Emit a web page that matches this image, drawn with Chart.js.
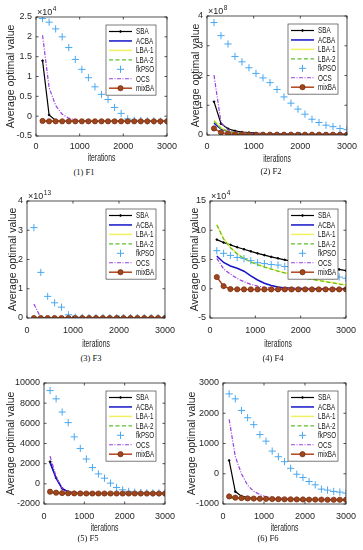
<!DOCTYPE html>
<html><head><meta charset="utf-8">
<script src="https://cdn.jsdelivr.net/npm/chart.js@4/dist/chart.umd.min.js"></script>
<style>
html,body{margin:0;padding:0;background:#fff}
body{width:363px;height:550px;position:relative;overflow:hidden}
.pw{position:absolute}
.cap{position:absolute;font-family:"Liberation Serif","Times New Roman",serif;font-size:8.5px;color:#111;transform:translate(-50%,-50%);white-space:nowrap}
</style></head>
<body>
<div id="root"></div>
<script>
// ---------- data ----------
const iterations = [150,300,450,600,750,900,1050,1200,1350,1500,1650,1800,1950,2100,2250,2400,2550,2700,2850,3000];
const seriesNames = ['SBA','ACBA','LBA-1','LBA-2','fkPSO','OCS','mixBA'];
const xTicks = [0,1000,2000,3000];

// F1 (x10^4)
const f1Ticks = [-0.5,0,0.5,1,1.5,2,2.5];
const f1SBA   = [1.40,0.03,-0.11,-0.13,-0.13,-0.13,-0.13,-0.13,-0.13,-0.13,-0.13,-0.13,-0.13,-0.13,-0.13,-0.13,-0.13,-0.13,-0.13,-0.13];
const f1ACBA  = [-0.12,-0.13,-0.13,-0.13,-0.13,-0.13,-0.13,-0.13,-0.13,-0.13,-0.13,-0.13,-0.13,-0.13,-0.13,-0.13,-0.13,-0.13,-0.13,-0.13];
const f1LBA1  = [-0.12,-0.13,-0.13,-0.13,-0.13,-0.13,-0.13,-0.13,-0.13,-0.13,-0.13,-0.13,-0.13,-0.13,-0.13,-0.13,-0.13,-0.13,-0.13,-0.13];
const f1LBA2  = [-0.12,-0.13,-0.13,-0.13,-0.13,-0.13,-0.13,-0.13,-0.13,-0.13,-0.13,-0.13,-0.13,-0.13,-0.13,-0.13,-0.13,-0.13,-0.13,-0.13];
const f1fkPSO = [2.46,2.37,2.20,2.00,1.73,1.43,1.18,0.97,0.74,0.55,0.42,0.22,0.07,-0.07,-0.10,-0.11,-0.12,-0.12,-0.13,-0.13];
const f1OCS   = [2.04,0.72,0.27,0.05,-0.05,-0.10,-0.12,-0.13,-0.13,-0.13,-0.13,-0.13,-0.13,-0.13,-0.13,-0.13,-0.13,-0.13,-0.13,-0.13];
const f1mixBA = [-0.12,-0.13,-0.13,-0.13,-0.13,-0.13,-0.13,-0.13,-0.13,-0.13,-0.13,-0.13,-0.13,-0.13,-0.13,-0.13,-0.13,-0.13,-0.13,-0.13];

// F2 (x10^8)
const f2Ticks = [0,1,2,3,4];
const f2SBA   = [1.12,0.38,0.21,0.14,0.10,0.08,0.06,0.05,0.045,0.04,0.035,0.03,0.03,0.025,0.025,0.02,0.02,0.02,0.02,0.02];
const f2ACBA  = [0.40,0.20,0.12,0.08,0.06,0.05,0.04,0.035,0.03,0.03,0.025,0.025,0.02,0.02,0.02,0.02,0.015,0.015,0.015,0.015];
const f2LBA1  = [0.50,0.24,0.13,0.08,0.06,0.045,0.035,0.03,0.025,0.02,0.02,0.018,0.016,0.015,0.014,0.013,0.012,0.012,0.011,0.011];
const f2LBA2  = [0.46,0.22,0.12,0.075,0.055,0.042,0.033,0.028,0.024,0.02,0.018,0.016,0.015,0.014,0.013,0.012,0.011,0.011,0.01,0.01];
const f2fkPSO = [3.78,3.34,3.06,2.64,2.46,2.26,2.07,1.92,1.76,1.53,1.28,1.07,0.87,0.70,0.53,0.42,0.33,0.28,0.22,0.18];
const f2OCS   = [2.01,0.42,0.17,0.10,0.07,0.05,0.04,0.035,0.03,0.025,0.02,0.02,0.02,0.02,0.02,0.02,0.02,0.02,0.02,0.02];
const f2mixBA = [0.22,0.08,0.04,0.025,0.02,0.015,0.01,0.01,0.01,0.01,0.01,0.01,0.01,0.01,0.01,0.01,0.01,0.01,0.01,0.01];

// F3 (x10^13)
const f3Ticks = [0,1,2,3,4];
const f3SBA   = [0.01,0,0,0,0,0,0,0,0,0,0,0,0,0,0,0,0,0,0,0];
const f3ACBA  = [0,0,0,0,0,0,0,0,0,0,0,0,0,0,0,0,0,0,0,0];
const f3LBA1  = [0,0,0,0,0,0,0,0,0,0,0,0,0,0,0,0,0,0,0,0];
const f3LBA2  = [0,0,0,0,0,0,0,0,0,0,0,0,0,0,0,0,0,0,0,0];
const f3fkPSO = [3.09,1.56,0.74,0.52,0.37,0.11,0.03,0.02,0.01,0.01,0.01,0.01,0.01,0.01,0.01,0.01,0.01,0.01,0.01,0.01];
const f3OCS   = [0.48,0.01,0,0,0,0,0,0,0,0,0,0,0,0,0,0,0,0,0,0];
const f3mixBA = [0,0,0,0,0,0,0,0,0,0,0,0,0,0,0,0,0,0,0,0];

// F4 (x10^4)
const f4Ticks = [-5,0,5,10,15];
const f4SBA   = [8.4,7.9,7.5,7.1,6.75,6.4,6.05,5.75,5.45,5.2,4.95,4.7,4.5,4.3,4.1,3.9,3.7,3.5,3.3,3.1];
const f4ACBA  = [5.6,4.5,3.9,3.5,3.0,2.2,1.5,0.95,0.55,0.3,0.15,0.07,0.04,0.03,0.02,0.02,0.01,0.01,0.01,0.01];
const f4LBA1  = [11.0,8.6,7.1,6.0,5.2,4.6,4.15,3.75,3.4,3.05,2.75,2.45,2.15,1.9,1.65,1.45,1.25,1.05,0.85,0.65];
const f4LBA2  = [10.9,8.5,7.0,5.95,5.15,4.55,4.1,3.7,3.35,3.0,2.7,2.4,2.1,1.85,1.6,1.4,1.2,1.0,0.8,0.6];
const f4fkPSO = [6.5,6.05,5.7,5.35,5.15,4.8,4.45,4.3,4.15,4.05,3.8,3.55,3.3,3.05,2.8,2.6,2.4,2.2,2.0,1.8];
const f4OCS   = [5.2,3.4,2.5,1.75,1.2,0.75,0.45,0.25,0.12,0.06,0.03,0.02,0.01,0.01,0.01,0.01,0.01,0.01,0.01,0.01];
const f4mixBA = [2.0,0.45,-0.05,-0.1,-0.11,-0.11,-0.11,-0.11,-0.11,-0.11,-0.11,-0.11,-0.11,-0.11,-0.11,-0.11,-0.11,-0.11,-0.11,-0.11];

// F5
const f5Ticks = [-2000,0,2000,4000,6000,8000,10000];
const f5SBA   = [2200,600,-450,-800,-900,-930,-945,-950,-955,-955,-960,-960,-960,-960,-960,-960,-960,-960,-960,-960];
const f5ACBA  = [2100,550,-480,-810,-905,-935,-950,-955,-955,-960,-960,-960,-960,-960,-960,-960,-960,-960,-960,-960];
const f5LBA1  = [-900,-930,-945,-950,-955,-955,-960,-960,-960,-960,-960,-960,-960,-960,-960,-960,-960,-960,-960,-960];
const f5LBA2  = [-905,-930,-945,-950,-955,-955,-960,-960,-960,-960,-960,-960,-960,-960,-960,-960,-960,-960,-960,-960];
const f5fkPSO = [9250,8430,7120,6070,4660,3510,2460,1610,985,560,70,-360,-590,-750,-830,-870,-890,-900,-910,-920];
const f5OCS   = [2750,700,-400,-780,-890,-930,-950,-955,-960,-960,-960,-960,-960,-960,-960,-960,-960,-960,-960,-960];
const f5mixBA = [-780,-880,-920,-940,-950,-955,-960,-960,-960,-960,-960,-960,-960,-960,-960,-960,-960,-960,-960,-960];

// F6
const f6Ticks = [-1000,0,1000,2000,3000];
const f6SBA   = [440,-590,-740,-790,-810,-820,-830,-835,-840,-845,-850,-850,-855,-855,-860,-860,-860,-865,-865,-865];
const f6ACBA  = [-780,-800,-815,-825,-830,-835,-840,-845,-850,-850,-855,-855,-860,-860,-860,-865,-865,-865,-870,-870];
const f6LBA1  = [-790,-810,-820,-828,-835,-840,-845,-848,-850,-853,-855,-858,-860,-862,-864,-865,-866,-867,-868,-869];
const f6LBA2  = [-795,-812,-822,-830,-836,-841,-846,-849,-851,-854,-856,-859,-861,-863,-864,-865,-866,-867,-868,-869];
const f6fkPSO = [2640,2475,2093,1852,1623,1295,1077,749,563,399,180,-16,-125,-257,-366,-508,-541,-585,-607,-640];
const f6OCS   = [1800,570,0,-380,-580,-690,-760,-790,-810,-820,-830,-835,-840,-842,-845,-847,-848,-849,-850,-850];
const f6mixBA = [-750,-790,-805,-815,-820,-825,-830,-835,-840,-845,-845,-850,-850,-855,-855,-855,-860,-860,-860,-860];

// ---------- styles ----------
const FONT = '"Liberation Sans", Arial, Helvetica, sans-serif';
const TXT = '#262626';
const styles = [
  {color:'#000000', width:1.2, dash:[], marker:'dot'},
  {color:'#1414c8', width:1.5, dash:[], marker:null},
  {color:'#f0f060', width:1.5, dash:[], marker:null},
  {color:'#5cbf2a', width:1.2, dash:[4,2.5], marker:null},
  {color:'#4aa8f0', width:1, dash:[], marker:'cross', noLine:true},
  {color:'#9a40e0', width:1.2, dash:[4,1.5,1,1.5], marker:null},
  {color:'#b4451f', width:1.5, dash:[], marker:'circle', fill:'#a0461e', edge:'#7a3214'}
];

const panels = [
  {colX:0,   rowY:0,   w:182, area:[36,17,167,136],  xPad:5, xTitleY:158, yTitleX:10.7, cap:'(1) F1', capX:84,  capY:172, exp:'4',  yTicks:f1Ticks, series:[f1SBA,f1ACBA,f1LBA1,f1LBA2,f1fkPSO,f1OCS,f1mixBA]},
  {colX:182, rowY:0,   w:181, area:[207,16,349,135], xPad:6, xTitleY:159, yTitleX:196,  cap:'(2) F2', capX:271, capY:171, exp:'8',  yTicks:f2Ticks, series:[f2SBA,f2ACBA,f2LBA1,f2LBA2,f2fkPSO,f2OCS,f2mixBA]},
  {colX:0,   rowY:183, w:182, area:[27,201,167,318], xPad:7, xTitleY:344, yTitleX:13.5, cap:'(3) F3', capX:91,  capY:358, exp:'13', yTicks:f3Ticks, series:[f3SBA,f3ACBA,f3LBA1,f3LBA2,f3fkPSO,f3OCS,f3mixBA]},
  {colX:182, rowY:183, w:181, area:[210,201,348,318],xPad:7, xTitleY:344, yTitleX:195,  cap:'(4) F4', capX:273, capY:358, exp:'4',  yTicks:f4Ticks, series:[f4SBA,f4ACBA,f4LBA1,f4LBA2,f4fkPSO,f4OCS,f4mixBA]},
  {colX:0,   rowY:365, w:182, area:[44,383,167,504], xPad:7, xTitleY:528, yTitleX:11,   cap:'(5) F5', capX:88,  capY:538, exp:null, yTicks:f5Ticks, series:[f5SBA,f5ACBA,f5LBA1,f5LBA2,f5fkPSO,f5OCS,f5mixBA]},
  {colX:182, rowY:365, w:181, area:[223,383,349,504],xPad:7, xTitleY:528, yTitleX:192,  cap:'(6) F6', capX:268, capY:538, exp:null, yTicks:f6Ticks, series:[f6SBA,f6ACBA,f6LBA1,f6LBA2,f6fkPSO,f6OCS,f6mixBA]}
];

function ptRadius(s){ return s.marker==='cross'?3.6 : s.marker==='circle'?2.6 : s.marker==='dot'?0.9 : 0; }

function drawMarker(ctx, s, x, y){
  if(!s.marker) return;
  ctx.save();
  ctx.setLineDash([]);
  if(s.marker==='cross'){
    ctx.strokeStyle=s.color; ctx.lineWidth=1;
    ctx.beginPath(); ctx.moveTo(x-3.6,y); ctx.lineTo(x+3.6,y); ctx.moveTo(x,y-3.6); ctx.lineTo(x,y+3.6); ctx.stroke();
  } else {
    ctx.fillStyle=s.fill||s.color; ctx.strokeStyle=s.edge||s.color; ctx.lineWidth=0.8;
    ctx.beginPath(); ctx.arc(x,y,ptRadius(s),0,Math.PI*2); ctx.fill(); ctx.stroke();
  }
  ctx.restore();
}

function squeezedText(ctx, text, x, y, sx){
  ctx.save();
  ctx.translate(x, y);
  ctx.scale(sx, 1);
  ctx.fillText(text, 0, 0);
  ctx.restore();
}

function makePlugin(p){
  return {
    id:'frame',
    afterDatasetsDraw(chart){
      const {ctx, chartArea:a, scales:{x,y}} = chart;
      ctx.save();
      // axes box and inward ticks
      ctx.strokeStyle=TXT; ctx.lineWidth=0.8; ctx.setLineDash([]);
      ctx.strokeRect(a.left, a.top, a.right-a.left, a.bottom-a.top);
      ctx.beginPath();
      const tl=2.5;
      x.ticks.forEach(t=>{const px=x.getPixelForValue(t.value); ctx.moveTo(px,a.bottom); ctx.lineTo(px,a.bottom-tl); ctx.moveTo(px,a.top); ctx.lineTo(px,a.top+tl);});
      y.ticks.forEach(t=>{const py=y.getPixelForValue(t.value); ctx.moveTo(a.left,py); ctx.lineTo(a.left+tl,py); ctx.moveTo(a.right,py); ctx.lineTo(a.right-tl,py);});
      ctx.stroke();
      // x axis title (narrow, as in the reference)
      ctx.fillStyle=TXT; ctx.textAlign='center'; ctx.textBaseline='middle';
      ctx.font='11px '+FONT;
      squeezedText(ctx, 'iterations', (a.left+a.right)/2, p.xTitleY - p.rowY, 0.62);
      // exponent label
      if(p.exp){
        ctx.fillStyle=TXT; ctx.textBaseline='alphabetic'; ctx.textAlign='left';
        ctx.font='9px '+FONT;
        ctx.fillText('\u00d710', a.left+1, a.top-2);
        const w=ctx.measureText('\u00d710').width;
        ctx.font='6.5px '+FONT;
        ctx.fillText(p.exp, a.left+1+w+0.5, a.top-6);
      }
      // legend box
      const lx = (p.colX===0?106:288) - p.colX;
      const ly = a.top + 8;
      const rowH = 9.45, lw = 50, lh = 7*rowH + 4;
      ctx.fillStyle='#fff'; ctx.fillRect(lx, ly, lw, lh);
      ctx.strokeStyle=TXT; ctx.lineWidth=0.6; ctx.strokeRect(lx, ly, lw, lh);
      ctx.font='8.5px '+FONT; ctx.textBaseline='middle'; ctx.textAlign='left';
      seriesNames.forEach((name,i)=>{
        const s=styles[i];
        const cy = ly + 6.5 + i*rowH;
        const x0 = lx+3, x1 = lx+26;
        if(!s.noLine){
          ctx.save();
          ctx.strokeStyle=s.color; ctx.lineWidth=s.width; ctx.setLineDash(s.dash);
          ctx.beginPath(); ctx.moveTo(x0,cy); ctx.lineTo(x1,cy); ctx.stroke();
          ctx.restore();
        }
        drawMarker(ctx, s, (x0+x1)/2, cy);
        ctx.fillStyle='#111';
        squeezedText(ctx, name, lx+30, cy+0.5, 0.74);
      });
      ctx.restore();
    }
  };
}

const root = document.getElementById('root');
panels.forEach((p,k)=>{
  const [L,T,R,B] = p.area;
  const hX = p.xTitleY + 6 - B;             // x-axis box height
  const ch = (p.xTitleY + 6 - p.rowY) + 2;  // canvas height
  const div = document.createElement('div');
  div.className='pw';
  div.style.left=p.colX+'px'; div.style.top=p.rowY+'px';
  div.style.width=p.w+'px'; div.style.height=ch+'px';
  const cv = document.createElement('canvas');
  div.appendChild(cv); root.appendChild(div);
  const cap = document.createElement('div');
  cap.className='cap'; cap.textContent=p.cap;
  cap.style.left=p.capX+'px'; cap.style.top=p.capY+'px';
  root.appendChild(cap);

  const datasets = p.series.map((arr,i)=>{
    const s=styles[i];
    return {
      label: seriesNames[i],
      data: iterations.map((it,j)=>({x:it, y:arr[j]})),
      borderColor: s.color,
      backgroundColor: s.fill||s.color,
      borderWidth: s.width,
      borderDash: s.dash,
      showLine: !s.noLine,
      pointStyle: s.marker==='cross'?'cross':'circle',
      pointRadius: ptRadius(s),
      pointBorderWidth: s.marker==='cross'?1:0.8,
      pointBackgroundColor: s.fill||s.color,
      pointBorderColor: s.edge||s.color,
      tension: 0,
      order: 6-i
    };
  });

  new Chart(cv, {
    type:'line',
    data:{datasets},
    options:{
      responsive:true, maintainAspectRatio:false, animation:false, events:[],
      devicePixelRatio:1,
      layout:{autoPadding:false, padding:{left:0, top:T-p.rowY, right:p.colX+p.w-R, bottom:2}},
      plugins:{legend:{display:false}, tooltip:{enabled:false}},
      scales:{
        x:{
          type:'linear', min:0, max:3000,
          afterBuildTicks: s=>{ s.ticks = xTicks.map(v=>({value:v})); },
          afterFit: s=>{ s.height = hX; },
          grid:{display:false, drawTicks:false}, border:{display:false},
          ticks:{padding:p.xPad, font:{family:FONT,size:9}, color:TXT, maxRotation:0, callback:v=>String(v)},
          title:{display:false}
        },
        y:{
          type:'linear', min:p.yTicks[0], max:p.yTicks[p.yTicks.length-1],
          afterBuildTicks: s=>{ s.ticks = p.yTicks.map(v=>({value:v})); },
          afterFit: s=>{ s.width = L - p.colX; },
          grid:{display:false, drawTicks:false}, border:{display:false},
          ticks:{padding:4, font:{family:FONT,size:9}, color:TXT, callback:v=>String(v)},
          title:{display:true, text:'Average optimal value', font:{family:FONT,size:10.5}, color:TXT, padding:{top:p.yTitleX-p.colX-6.3, bottom:0}}
        }
      }
    },
    plugins:[makePlugin(p)]
  });
});
</script>
</body></html>
